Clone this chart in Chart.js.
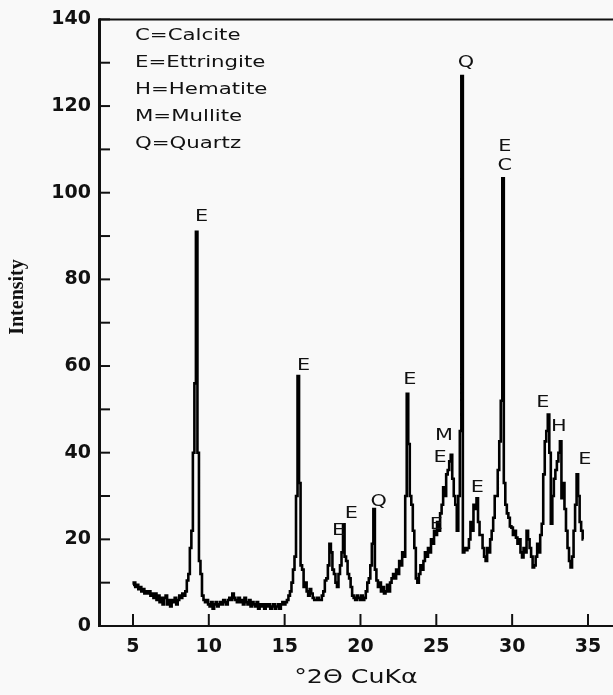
<!DOCTYPE html>
<html><head><meta charset="utf-8">
<script src="https://cdn.jsdelivr.net/npm/chart.js@4"></script>
<style>html,body{margin:0;padding:0;background:#f9f9f9}canvas{display:block}</style>
</head><body>
<canvas id="c" width="613" height="695"></canvas>
<script>
// ---- data ----
const twoTheta = [
 5.0,5.1,5.2,5.3,5.4,5.5,5.6,5.7,5.8,5.9,
 6.0,6.1,6.2,6.3,6.4,6.5,6.6,6.7,6.8,6.9,
 7.0,7.1,7.2,7.3,7.4,7.5,7.6,7.7,7.8,7.9,
 8.0,8.1,8.2,8.3,8.4,8.5,8.6,8.7,8.8,8.9,
 9.0,9.1,9.2,9.3,9.4,9.5,9.6,9.7,9.8,9.9,
 10.0,10.1,10.2,10.3,10.4,10.5,10.6,10.7,10.8,10.9,
 11.0,11.1,11.2,11.3,11.4,11.5,11.6,11.7,11.8,11.9,
 12.0,12.1,12.2,12.3,12.4,12.5,12.6,12.7,12.8,12.9,
 13.0,13.1,13.2,13.3,13.4,13.5,13.6,13.7,13.8,13.9,
 14.0,14.1,14.2,14.3,14.4,14.5,14.6,14.7,14.8,14.9,
 15.0,15.1,15.2,15.3,15.4,15.5,15.6,15.7,15.8,15.9,
 16.0,16.1,16.2,16.3,16.4,16.5,16.6,16.7,16.8,16.9,
 17.0,17.1,17.2,17.3,17.4,17.5,17.6,17.7,17.8,17.9,
 18.0,18.1,18.2,18.3,18.4,18.5,18.6,18.7,18.8,18.9,
 19.0,19.1,19.2,19.3,19.4,19.5,19.6,19.7,19.8,19.9,
 20.0,20.1,20.2,20.3,20.4,20.5,20.6,20.7,20.8,20.9,
 21.0,21.1,21.2,21.3,21.4,21.5,21.6,21.7,21.8,21.9,
 22.0,22.1,22.2,22.3,22.4,22.5,22.6,22.7,22.8,22.9,
 23.0,23.1,23.2,23.3,23.4,23.5,23.6,23.7,23.8,23.9,
 24.0,24.1,24.2,24.3,24.4,24.5,24.6,24.7,24.8,24.9,
 25.0,25.1,25.2,25.3,25.4,25.5,25.6,25.7,25.8,25.9,
 26.0,26.1,26.2,26.3,26.4,26.5,26.6,26.7,26.8,26.9,
 27.0,27.1,27.2,27.3,27.4,27.5,27.6,27.7,27.8,27.9,
 28.0,28.1,28.2,28.3,28.4,28.5,28.6,28.7,28.8,28.9,
 29.0,29.1,29.2,29.3,29.4,29.5,29.6,29.7,29.8,29.9,
 30.0,30.1,30.2,30.3,30.4,30.5,30.6,30.7,30.8,30.9,
 31.0,31.1,31.2,31.3,31.4,31.5,31.6,31.7,31.8,31.9,
 32.0,32.1,32.2,32.3,32.4,32.5,32.6,32.7,32.8,32.9,
 33.0,33.1,33.2,33.3,33.4,33.5,33.6,33.7,33.8,33.9,
 34.0,34.1,34.2,34.3,34.4,34.5,34.6,34.7
];
const intensity = [
 9.5,10,9,9.5,8.5,9,8,8.5,7.5,8,
 7.5,8,7,7.5,6.5,7.5,6,7,5.5,6.5,
 5,6.5,7,5,6,4.5,6,5.5,6.5,5,
 6,7,6.5,7.5,7,8,10.5,12,18,22,
 40,56,91,40,15,12,7,6,5.5,6,
 5,4.5,5.5,4,5,5.5,4.5,5,5.5,5,
 6,5.5,5,6,6.5,6,7.5,6.5,6,5.5,
 6.5,5.5,6,5,6.5,5.5,5,6,4.5,5.5,
 5,4.5,5.5,4,5,4.5,5,4,5,4.5,
 5,4,4.5,5,4,4.5,5,4,5,5.5,
 5,5.5,6,7,8,10,13,16,30,57.7,
 33,14,13,9,10,8,7,8.5,7.5,6.5,
 6,6,6.5,6,6,7,8,10.5,11,14,
 19,17,13,12,10,9,12,14,17,23.5,
 16,15,12,11,9,7,6.5,6,7,6.5,
 6,7,6,6.5,8,10,11,14,19,27,
 13,10.5,9,10,8,9,7.5,8,9.5,8,
 10,11,12,11,13,12,15,14,17,16,
 30,53.6,42,30,28,22,18,11,10,12,
 14,13,15,17,16,18,17,20,19,22,
 21,24,22,26,28,32,30,35,36,38,
 39.5,34,30,28,22,30,45,126.9,17,18,
 17.5,18,20,24,22,28,27,29.5,24,21,
 21,18,16,15,18,17,20,22,25,30,
 30,36,42.6,52,103.3,33,28,26,25,23,
 22.7,21,22,20.4,19,20,17,15.8,18,17,
 22,20,18,16,13.5,14,16,19,17,21,
 23.6,35,42.6,45,48.8,40,23.6,30,34,36,
 38,40,42.6,29.5,33,27,22,18,15,13.5,
 16,22,28,35,30,24,22,20
];
const xTickValues = [5,10,15,20,25,30,35];
const yTickValues = [0,20,40,60,80,100,120,140];
const yMinorTickValues = [0,10,20,30,40,50,60,70,80,90,100,110,120,130,140];
const legendLines = ['C=Calcite','E=Ettringite','H=Hematite','M=Mullite','Q=Quartz'];
const peakLabelText = ['E','E','E','E','Q','E','E','E','M','Q','E','E','C','E','H','E'];
const peakLabelTheta = [9.52,16.24,18.55,19.4,21.2,23.26,25.0,25.24,25.5,26.95,27.7,29.52,29.52,32.03,33.08,34.8];
const peakLabelIntensity = [94.4,60,21.9,25.8,28.7,56.7,23.4,38.9,44,129.9,31.9,110.6,106.3,51.4,46,38.4];
const xTitle = '°2Θ CuKα';
const yTitle = 'Intensity';

function drawScaled(ctx, text, x, y, font, sx, align){
  ctx.save();
  ctx.font = font;
  ctx.translate(x, y);
  ctx.scale(sx, 1);
  ctx.textAlign = align;
  ctx.textBaseline = 'middle';
  ctx.fillStyle = '#111';
  ctx.fillText(text, 0, 0);
  ctx.restore();
}

const decor = {
  id: 'decor',
  afterDraw(chart){
    const ctx = chart.ctx, xs = chart.scales.x, ys = chart.scales.y, a = chart.chartArea;
    ctx.save();
    ctx.strokeStyle = '#111';
    ctx.lineCap = 'butt';
    ctx.lineWidth = 3;
    ctx.beginPath(); ctx.moveTo(a.left + 0.5, a.top - 1); ctx.lineTo(a.left + 0.5, a.bottom + 1); ctx.stroke();
    ctx.lineWidth = 2;
    ctx.beginPath(); ctx.moveTo(a.left - 1, a.bottom); ctx.lineTo(a.right, a.bottom); ctx.stroke();
    ctx.beginPath(); ctx.moveTo(a.left, a.top); ctx.lineTo(a.right, a.top); ctx.stroke();
    yMinorTickValues.forEach(v => {
      const y = ys.getPixelForValue(v);
      ctx.beginPath(); ctx.moveTo(a.left, y); ctx.lineTo(a.left + 11, y); ctx.stroke();
    });
    xTickValues.forEach(v => {
      const x = xs.getPixelForValue(v);
      ctx.beginPath(); ctx.moveTo(x, a.bottom); ctx.lineTo(x, a.bottom - 12); ctx.stroke();
    });
    ctx.restore();
    legendLines.forEach((t, i) => drawScaled(ctx, t, 135, 36 + i * 27, '16px "DejaVu Sans"', 1.33, 'left'));
    peakLabelText.forEach((t, i) => {
      drawScaled(ctx, t, xs.getPixelForValue(peakLabelTheta[i]), ys.getPixelForValue(peakLabelIntensity[i]),
        '16px "DejaVu Sans"', 1.3, 'center');
    });
    drawScaled(ctx, xTitle, (a.left + a.right) / 2, 678, '19px "DejaVu Sans"', 1.33, 'center');
    ctx.save();
    ctx.translate(18, 297);
    ctx.rotate(-Math.PI / 2);
    ctx.font = 'bold 20px "Liberation Serif"';
    ctx.textAlign = 'center';
    ctx.textBaseline = 'middle';
    ctx.fillStyle = '#111';
    ctx.fillText(yTitle, 0, 0);
    ctx.restore();
  }
};

const tickFont = {family: '"DejaVu Sans"', size: 19, weight: 'bold'};
new Chart(document.getElementById('c'), {
  type: 'line',
  data: {
    datasets: [{
      data: twoTheta.map((t, i) => ({x: t, y: intensity[i]})),
      borderColor: '#000',
      borderWidth: 2.6,
      pointRadius: 0,
      stepped: 'middle',
      fill: false
    }]
  },
  options: {
    responsive: false,
    animation: false,
    events: [],
    layout: {padding: {top: 14, right: 0, bottom: 0, left: 0}},
    plugins: {legend: {display: false}, tooltip: {enabled: false}},
    scales: {
      x: {
        type: 'linear', min: 2.76, max: 36.65,
        afterFit: s => { s.height = 69; },
        afterBuildTicks: s => { s.ticks = xTickValues.map(v => ({value: v})); },
        grid: {display: false, drawTicks: false},
        border: {display: false},
        ticks: {padding: 10, color: '#111', font: tickFont, maxRotation: 0, autoSkip: false}
      },
      y: {
        type: 'linear', min: 0, max: 140,
        afterFit: s => { s.width = 99; },
        afterBuildTicks: s => { s.ticks = yTickValues.map(v => ({value: v})); },
        grid: {display: false, drawTicks: false},
        border: {display: false},
        ticks: {padding: 8, color: '#111', font: tickFont, autoSkip: false}
      }
    }
  },
  plugins: [decor]
});
</script>
</body></html>
